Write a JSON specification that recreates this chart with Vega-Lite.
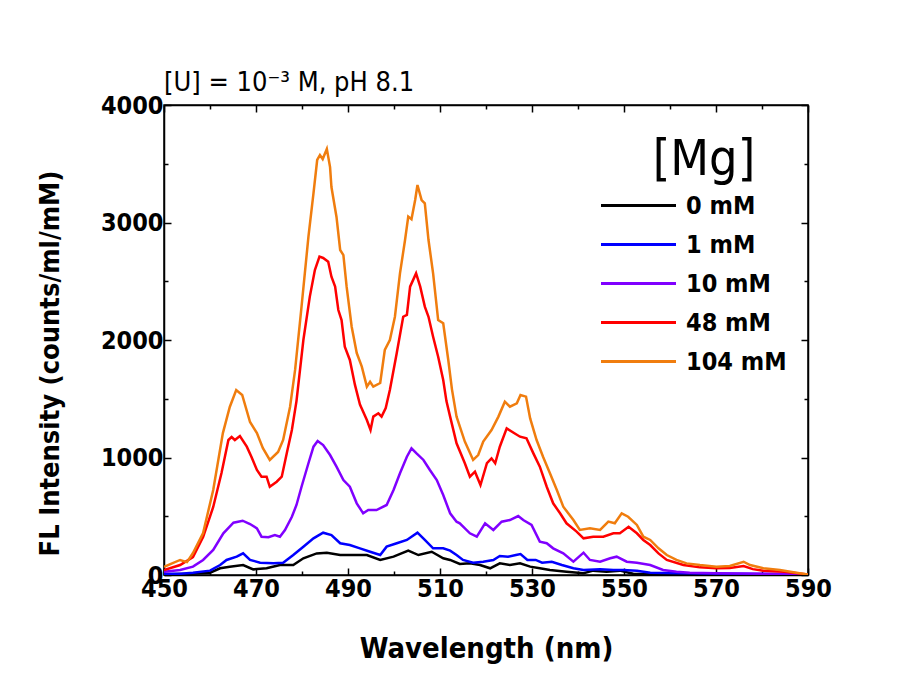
{
  "$schema": "https://vega.github.io/schema/vega-lite/v6.json",
  "width": 644,
  "height": 470,
  "autosize": {"type": "none"},
  "padding": {"left": 164, "top": 105, "right": 102, "bottom": 108},
  "background": "white",
  "title": {"text": "[U] = 10⁻³ M, pH 8.1", "anchor": "start", "frame": "group", "fontSize": 27, "fontWeight": "normal", "font": "Liberation Sans Narrow, DejaVu Sans Condensed, Open Sans, sans-serif", "color": "black", "offset": -4},
  "datasets": {
    "spectra": [
      {"wavelength": 450, "intensity": 5, "mg": "0 mM"}, {"wavelength": 455, "intensity": 10, "mg": "0 mM"}, {"wavelength": 460, "intensity": 20, "mg": "0 mM"}, {"wavelength": 462.2, "intensity": 57, "mg": "0 mM"}, {"wavelength": 464.3, "intensity": 71, "mg": "0 mM"}, {"wavelength": 467.2, "intensity": 85, "mg": "0 mM"}, {"wavelength": 469.4, "intensity": 48, "mg": "0 mM"}, {"wavelength": 472.3, "intensity": 57, "mg": "0 mM"}, {"wavelength": 475.2, "intensity": 85, "mg": "0 mM"}, {"wavelength": 478.1, "intensity": 85, "mg": "0 mM"}, {"wavelength": 480.3, "intensity": 142, "mg": "0 mM"}, {"wavelength": 483.2, "intensity": 184, "mg": "0 mM"}, {"wavelength": 485.4, "intensity": 190, "mg": "0 mM"}, {"wavelength": 488.3, "intensity": 170, "mg": "0 mM"}, {"wavelength": 491.2, "intensity": 170, "mg": "0 mM"}, {"wavelength": 494.1, "intensity": 170, "mg": "0 mM"}, {"wavelength": 497, "intensity": 128, "mg": "0 mM"}, {"wavelength": 499.9, "intensity": 156, "mg": "0 mM"}, {"wavelength": 503.1, "intensity": 207, "mg": "0 mM"}, {"wavelength": 505.3, "intensity": 170, "mg": "0 mM"}, {"wavelength": 508.2, "intensity": 198, "mg": "0 mM"}, {"wavelength": 510.7, "intensity": 142, "mg": "0 mM"}, {"wavelength": 512.2, "intensity": 128, "mg": "0 mM"}, {"wavelength": 514.3, "intensity": 94, "mg": "0 mM"}, {"wavelength": 516.5, "intensity": 99, "mg": "0 mM"}, {"wavelength": 518.7, "intensity": 85, "mg": "0 mM"}, {"wavelength": 520.9, "intensity": 57, "mg": "0 mM"}, {"wavelength": 523, "intensity": 99, "mg": "0 mM"}, {"wavelength": 525.2, "intensity": 85, "mg": "0 mM"}, {"wavelength": 527.4, "intensity": 99, "mg": "0 mM"}, {"wavelength": 529.6, "intensity": 71, "mg": "0 mM"}, {"wavelength": 531.7, "intensity": 57, "mg": "0 mM"}, {"wavelength": 533.9, "intensity": 43, "mg": "0 mM"}, {"wavelength": 537.5, "intensity": 28, "mg": "0 mM"}, {"wavelength": 541.2, "intensity": 15, "mg": "0 mM"}, {"wavelength": 543.3, "intensity": 37, "mg": "0 mM"}, {"wavelength": 546.2, "intensity": 28, "mg": "0 mM"}, {"wavelength": 549.1, "intensity": 37, "mg": "0 mM"}, {"wavelength": 552, "intensity": 10, "mg": "0 mM"}, {"wavelength": 560, "intensity": 5, "mg": "0 mM"}, {"wavelength": 570, "intensity": 5, "mg": "0 mM"}, {"wavelength": 590, "intensity": 3, "mg": "0 mM"},
      {"wavelength": 450, "intensity": 10, "mg": "1 mM"}, {"wavelength": 453.5, "intensity": 10, "mg": "1 mM"}, {"wavelength": 456.3, "intensity": 20, "mg": "1 mM"}, {"wavelength": 460, "intensity": 37, "mg": "1 mM"}, {"wavelength": 462.2, "intensity": 85, "mg": "1 mM"}, {"wavelength": 463.6, "intensity": 128, "mg": "1 mM"}, {"wavelength": 465.8, "intensity": 156, "mg": "1 mM"}, {"wavelength": 467.2, "intensity": 184, "mg": "1 mM"}, {"wavelength": 468.7, "intensity": 128, "mg": "1 mM"}, {"wavelength": 470.9, "intensity": 105, "mg": "1 mM"}, {"wavelength": 473.8, "intensity": 99, "mg": "1 mM"}, {"wavelength": 475.9, "intensity": 105, "mg": "1 mM"}, {"wavelength": 478.1, "intensity": 170, "mg": "1 mM"}, {"wavelength": 480.3, "intensity": 241, "mg": "1 mM"}, {"wavelength": 482.5, "intensity": 312, "mg": "1 mM"}, {"wavelength": 484.6, "intensity": 360, "mg": "1 mM"}, {"wavelength": 486.4, "intensity": 340, "mg": "1 mM"}, {"wavelength": 488.3, "intensity": 270, "mg": "1 mM"}, {"wavelength": 490.4, "intensity": 255, "mg": "1 mM"}, {"wavelength": 492.6, "intensity": 227, "mg": "1 mM"}, {"wavelength": 494.8, "intensity": 198, "mg": "1 mM"}, {"wavelength": 497, "intensity": 170, "mg": "1 mM"}, {"wavelength": 498.4, "intensity": 241, "mg": "1 mM"}, {"wavelength": 500.6, "intensity": 270, "mg": "1 mM"}, {"wavelength": 502.8, "intensity": 298, "mg": "1 mM"}, {"wavelength": 505.1, "intensity": 360, "mg": "1 mM"}, {"wavelength": 506.7, "intensity": 298, "mg": "1 mM"}, {"wavelength": 508.5, "intensity": 227, "mg": "1 mM"}, {"wavelength": 510.7, "intensity": 227, "mg": "1 mM"}, {"wavelength": 512.2, "intensity": 207, "mg": "1 mM"}, {"wavelength": 513.6, "intensity": 170, "mg": "1 mM"}, {"wavelength": 515, "intensity": 128, "mg": "1 mM"}, {"wavelength": 517.2, "intensity": 105, "mg": "1 mM"}, {"wavelength": 519.4, "intensity": 113, "mg": "1 mM"}, {"wavelength": 521.6, "intensity": 128, "mg": "1 mM"}, {"wavelength": 523, "intensity": 162, "mg": "1 mM"}, {"wavelength": 524.8, "intensity": 156, "mg": "1 mM"}, {"wavelength": 526.5, "intensity": 170, "mg": "1 mM"}, {"wavelength": 527.5, "intensity": 178, "mg": "1 mM"}, {"wavelength": 529, "intensity": 128, "mg": "1 mM"}, {"wavelength": 530.8, "intensity": 128, "mg": "1 mM"}, {"wavelength": 532.2, "intensity": 105, "mg": "1 mM"}, {"wavelength": 534.3, "intensity": 113, "mg": "1 mM"}, {"wavelength": 536.5, "intensity": 85, "mg": "1 mM"}, {"wavelength": 539, "intensity": 57, "mg": "1 mM"}, {"wavelength": 541.2, "intensity": 43, "mg": "1 mM"}, {"wavelength": 544.8, "intensity": 48, "mg": "1 mM"}, {"wavelength": 547.7, "intensity": 43, "mg": "1 mM"}, {"wavelength": 549.8, "intensity": 43, "mg": "1 mM"}, {"wavelength": 552.8, "intensity": 37, "mg": "1 mM"}, {"wavelength": 555.7, "intensity": 20, "mg": "1 mM"}, {"wavelength": 562.9, "intensity": 15, "mg": "1 mM"}, {"wavelength": 573.8, "intensity": 10, "mg": "1 mM"}, {"wavelength": 590, "intensity": 5, "mg": "1 mM"},
      {"wavelength": 450, "intensity": 28, "mg": "10 mM"}, {"wavelength": 453.5, "intensity": 43, "mg": "10 mM"}, {"wavelength": 456.3, "intensity": 71, "mg": "10 mM"}, {"wavelength": 458.5, "intensity": 128, "mg": "10 mM"}, {"wavelength": 460.7, "intensity": 213, "mg": "10 mM"}, {"wavelength": 462.9, "intensity": 355, "mg": "10 mM"}, {"wavelength": 465.1, "intensity": 445, "mg": "10 mM"}, {"wavelength": 467.1, "intensity": 462, "mg": "10 mM"}, {"wavelength": 468.7, "intensity": 434, "mg": "10 mM"}, {"wavelength": 470.2, "intensity": 397, "mg": "10 mM"}, {"wavelength": 471.2, "intensity": 326, "mg": "10 mM"}, {"wavelength": 472.7, "intensity": 321, "mg": "10 mM"}, {"wavelength": 474.1, "intensity": 340, "mg": "10 mM"}, {"wavelength": 475.2, "intensity": 326, "mg": "10 mM"}, {"wavelength": 476.3, "intensity": 383, "mg": "10 mM"}, {"wavelength": 477.8, "intensity": 496, "mg": "10 mM"}, {"wavelength": 478.8, "intensity": 596, "mg": "10 mM"}, {"wavelength": 479.9, "intensity": 751, "mg": "10 mM"}, {"wavelength": 481.4, "intensity": 951, "mg": "10 mM"}, {"wavelength": 482.5, "intensity": 1092, "mg": "10 mM"}, {"wavelength": 483.4, "intensity": 1140, "mg": "10 mM"}, {"wavelength": 484.6, "intensity": 1106, "mg": "10 mM"}, {"wavelength": 486.1, "intensity": 1021, "mg": "10 mM"}, {"wavelength": 487.5, "intensity": 922, "mg": "10 mM"}, {"wavelength": 489, "intensity": 808, "mg": "10 mM"}, {"wavelength": 490.4, "intensity": 751, "mg": "10 mM"}, {"wavelength": 491.9, "intensity": 610, "mg": "10 mM"}, {"wavelength": 493.3, "intensity": 525, "mg": "10 mM"}, {"wavelength": 494.4, "intensity": 553, "mg": "10 mM"}, {"wavelength": 496.2, "intensity": 553, "mg": "10 mM"}, {"wavelength": 498.4, "intensity": 596, "mg": "10 mM"}, {"wavelength": 499.9, "intensity": 723, "mg": "10 mM"}, {"wavelength": 501.3, "intensity": 866, "mg": "10 mM"}, {"wavelength": 502.8, "intensity": 1007, "mg": "10 mM"}, {"wavelength": 503.8, "intensity": 1078, "mg": "10 mM"}, {"wavelength": 504.9, "intensity": 1035, "mg": "10 mM"}, {"wavelength": 506.4, "intensity": 979, "mg": "10 mM"}, {"wavelength": 507.8, "intensity": 894, "mg": "10 mM"}, {"wavelength": 509.3, "intensity": 808, "mg": "10 mM"}, {"wavelength": 510.7, "intensity": 681, "mg": "10 mM"}, {"wavelength": 512.2, "intensity": 525, "mg": "10 mM"}, {"wavelength": 513.6, "intensity": 454, "mg": "10 mM"}, {"wavelength": 514.3, "intensity": 440, "mg": "10 mM"}, {"wavelength": 516.5, "intensity": 355, "mg": "10 mM"}, {"wavelength": 518, "intensity": 326, "mg": "10 mM"}, {"wavelength": 519.8, "intensity": 440, "mg": "10 mM"}, {"wavelength": 521.6, "intensity": 383, "mg": "10 mM"}, {"wavelength": 523.4, "intensity": 454, "mg": "10 mM"}, {"wavelength": 525.2, "intensity": 468, "mg": "10 mM"}, {"wavelength": 527, "intensity": 502, "mg": "10 mM"}, {"wavelength": 528.1, "intensity": 468, "mg": "10 mM"}, {"wavelength": 529.9, "intensity": 426, "mg": "10 mM"}, {"wavelength": 531.7, "intensity": 284, "mg": "10 mM"}, {"wavelength": 533.2, "intensity": 270, "mg": "10 mM"}, {"wavelength": 534.6, "intensity": 227, "mg": "10 mM"}, {"wavelength": 536.8, "intensity": 184, "mg": "10 mM"}, {"wavelength": 539, "intensity": 113, "mg": "10 mM"}, {"wavelength": 541.2, "intensity": 190, "mg": "10 mM"}, {"wavelength": 542.6, "intensity": 128, "mg": "10 mM"}, {"wavelength": 544.8, "intensity": 113, "mg": "10 mM"}, {"wavelength": 547, "intensity": 142, "mg": "10 mM"}, {"wavelength": 548.4, "intensity": 156, "mg": "10 mM"}, {"wavelength": 550.6, "intensity": 113, "mg": "10 mM"}, {"wavelength": 552.8, "intensity": 105, "mg": "10 mM"}, {"wavelength": 555.7, "intensity": 85, "mg": "10 mM"}, {"wavelength": 558.5, "intensity": 43, "mg": "10 mM"}, {"wavelength": 561.4, "intensity": 28, "mg": "10 mM"}, {"wavelength": 564.3, "intensity": 20, "mg": "10 mM"}, {"wavelength": 570, "intensity": 15, "mg": "10 mM"}, {"wavelength": 585, "intensity": 10, "mg": "10 mM"}, {"wavelength": 590, "intensity": 5, "mg": "10 mM"},
      {"wavelength": 450, "intensity": 43, "mg": "48 mM"}, {"wavelength": 453.5, "intensity": 85, "mg": "48 mM"}, {"wavelength": 456.3, "intensity": 153, "mg": "48 mM"}, {"wavelength": 458.5, "intensity": 323, "mg": "48 mM"}, {"wavelength": 460.7, "intensity": 579, "mg": "48 mM"}, {"wavelength": 462.5, "intensity": 868, "mg": "48 mM"}, {"wavelength": 464, "intensity": 1149, "mg": "48 mM"}, {"wavelength": 464.7, "intensity": 1174, "mg": "48 mM"}, {"wavelength": 465.4, "intensity": 1149, "mg": "48 mM"}, {"wavelength": 466.5, "intensity": 1183, "mg": "48 mM"}, {"wavelength": 468, "intensity": 1092, "mg": "48 mM"}, {"wavelength": 469, "intensity": 1007, "mg": "48 mM"}, {"wavelength": 470.2, "intensity": 894, "mg": "48 mM"}, {"wavelength": 471.2, "intensity": 837, "mg": "48 mM"}, {"wavelength": 472.3, "intensity": 837, "mg": "48 mM"}, {"wavelength": 473, "intensity": 751, "mg": "48 mM"}, {"wavelength": 474.5, "intensity": 794, "mg": "48 mM"}, {"wavelength": 475.6, "intensity": 837, "mg": "48 mM"}, {"wavelength": 476.7, "intensity": 1038, "mg": "48 mM"}, {"wavelength": 477.8, "intensity": 1234, "mg": "48 mM"}, {"wavelength": 478.8, "intensity": 1480, "mg": "48 mM"}, {"wavelength": 480.3, "intensity": 2000, "mg": "48 mM"}, {"wavelength": 481.7, "intensity": 2369, "mg": "48 mM"}, {"wavelength": 482.8, "intensity": 2596, "mg": "48 mM"}, {"wavelength": 483.8, "intensity": 2709, "mg": "48 mM"}, {"wavelength": 484.6, "intensity": 2698, "mg": "48 mM"}, {"wavelength": 485.7, "intensity": 2666, "mg": "48 mM"}, {"wavelength": 486.4, "intensity": 2539, "mg": "48 mM"}, {"wavelength": 487.2, "intensity": 2454, "mg": "48 mM"}, {"wavelength": 487.9, "intensity": 2255, "mg": "48 mM"}, {"wavelength": 488.6, "intensity": 2170, "mg": "48 mM"}, {"wavelength": 489.3, "intensity": 1943, "mg": "48 mM"}, {"wavelength": 490.4, "intensity": 1830, "mg": "48 mM"}, {"wavelength": 491.5, "intensity": 1620, "mg": "48 mM"}, {"wavelength": 492.6, "intensity": 1450, "mg": "48 mM"}, {"wavelength": 494.1, "intensity": 1319, "mg": "48 mM"}, {"wavelength": 494.9, "intensity": 1234, "mg": "48 mM"}, {"wavelength": 495.5, "intensity": 1348, "mg": "48 mM"}, {"wavelength": 496.6, "intensity": 1376, "mg": "48 mM"}, {"wavelength": 497.3, "intensity": 1348, "mg": "48 mM"}, {"wavelength": 498.2, "intensity": 1420, "mg": "48 mM"}, {"wavelength": 499.1, "intensity": 1574, "mg": "48 mM"}, {"wavelength": 500.6, "intensity": 1889, "mg": "48 mM"}, {"wavelength": 502, "intensity": 2198, "mg": "48 mM"}, {"wavelength": 502.8, "intensity": 2213, "mg": "48 mM"}, {"wavelength": 503.5, "intensity": 2454, "mg": "48 mM"}, {"wavelength": 504.8, "intensity": 2567, "mg": "48 mM"}, {"wavelength": 505.7, "intensity": 2454, "mg": "48 mM"}, {"wavelength": 506.7, "intensity": 2284, "mg": "48 mM"}, {"wavelength": 507.5, "intensity": 2198, "mg": "48 mM"}, {"wavelength": 508.5, "intensity": 2028, "mg": "48 mM"}, {"wavelength": 509.6, "intensity": 1858, "mg": "48 mM"}, {"wavelength": 510.7, "intensity": 1660, "mg": "48 mM"}, {"wavelength": 511.4, "intensity": 1480, "mg": "48 mM"}, {"wavelength": 512.2, "intensity": 1348, "mg": "48 mM"}, {"wavelength": 513.6, "intensity": 1121, "mg": "48 mM"}, {"wavelength": 515.4, "intensity": 951, "mg": "48 mM"}, {"wavelength": 516.5, "intensity": 837, "mg": "48 mM"}, {"wavelength": 517.6, "intensity": 879, "mg": "48 mM"}, {"wavelength": 518.8, "intensity": 766, "mg": "48 mM"}, {"wavelength": 520.2, "intensity": 951, "mg": "48 mM"}, {"wavelength": 521.2, "intensity": 993, "mg": "48 mM"}, {"wavelength": 522, "intensity": 951, "mg": "48 mM"}, {"wavelength": 523, "intensity": 1092, "mg": "48 mM"}, {"wavelength": 524.5, "intensity": 1248, "mg": "48 mM"}, {"wavelength": 526, "intensity": 1211, "mg": "48 mM"}, {"wavelength": 527.4, "intensity": 1177, "mg": "48 mM"}, {"wavelength": 528.8, "intensity": 1163, "mg": "48 mM"}, {"wavelength": 530.3, "intensity": 1035, "mg": "48 mM"}, {"wavelength": 531.7, "intensity": 922, "mg": "48 mM"}, {"wavelength": 533.2, "intensity": 751, "mg": "48 mM"}, {"wavelength": 534.6, "intensity": 610, "mg": "48 mM"}, {"wavelength": 536.1, "intensity": 525, "mg": "48 mM"}, {"wavelength": 537.5, "intensity": 440, "mg": "48 mM"}, {"wavelength": 539.7, "intensity": 369, "mg": "48 mM"}, {"wavelength": 541.2, "intensity": 312, "mg": "48 mM"}, {"wavelength": 543.3, "intensity": 326, "mg": "48 mM"}, {"wavelength": 545.5, "intensity": 326, "mg": "48 mM"}, {"wavelength": 547.7, "intensity": 355, "mg": "48 mM"}, {"wavelength": 549.1, "intensity": 355, "mg": "48 mM"}, {"wavelength": 551, "intensity": 411, "mg": "48 mM"}, {"wavelength": 552.8, "intensity": 355, "mg": "48 mM"}, {"wavelength": 554.2, "intensity": 298, "mg": "48 mM"}, {"wavelength": 555.7, "intensity": 255, "mg": "48 mM"}, {"wavelength": 557.5, "intensity": 184, "mg": "48 mM"}, {"wavelength": 559.3, "intensity": 128, "mg": "48 mM"}, {"wavelength": 562.9, "intensity": 85, "mg": "48 mM"}, {"wavelength": 566.5, "intensity": 65, "mg": "48 mM"}, {"wavelength": 570.1, "intensity": 57, "mg": "48 mM"}, {"wavelength": 573, "intensity": 60, "mg": "48 mM"}, {"wavelength": 576, "intensity": 77, "mg": "48 mM"}, {"wavelength": 578, "intensity": 50, "mg": "48 mM"}, {"wavelength": 580.3, "intensity": 37, "mg": "48 mM"}, {"wavelength": 584.8, "intensity": 28, "mg": "48 mM"}, {"wavelength": 590, "intensity": 5, "mg": "48 mM"},
      {"wavelength": 450, "intensity": 70, "mg": "104 mM"}, {"wavelength": 451.5, "intensity": 95, "mg": "104 mM"}, {"wavelength": 453.5, "intensity": 128, "mg": "104 mM"}, {"wavelength": 455, "intensity": 110, "mg": "104 mM"}, {"wavelength": 456.3, "intensity": 187, "mg": "104 mM"}, {"wavelength": 458.5, "intensity": 357, "mg": "104 mM"}, {"wavelength": 460.7, "intensity": 723, "mg": "104 mM"}, {"wavelength": 462.8, "intensity": 1208, "mg": "104 mM"}, {"wavelength": 464.3, "intensity": 1430, "mg": "104 mM"}, {"wavelength": 465.7, "intensity": 1574, "mg": "104 mM"}, {"wavelength": 467, "intensity": 1532, "mg": "104 mM"}, {"wavelength": 468.7, "intensity": 1302, "mg": "104 mM"}, {"wavelength": 470.2, "intensity": 1208, "mg": "104 mM"}, {"wavelength": 471.5, "intensity": 1080, "mg": "104 mM"}, {"wavelength": 473, "intensity": 979, "mg": "104 mM"}, {"wavelength": 474.8, "intensity": 1047, "mg": "104 mM"}, {"wavelength": 475.9, "intensity": 1149, "mg": "104 mM"}, {"wavelength": 477.4, "intensity": 1430, "mg": "104 mM"}, {"wavelength": 478.5, "intensity": 1745, "mg": "104 mM"}, {"wavelength": 479.9, "intensity": 2284, "mg": "104 mM"}, {"wavelength": 481.4, "intensity": 2879, "mg": "104 mM"}, {"wavelength": 482.5, "intensity": 3250, "mg": "104 mM"}, {"wavelength": 483.3, "intensity": 3532, "mg": "104 mM"}, {"wavelength": 483.9, "intensity": 3574, "mg": "104 mM"}, {"wavelength": 484.5, "intensity": 3540, "mg": "104 mM"}, {"wavelength": 485.4, "intensity": 3626, "mg": "104 mM"}, {"wavelength": 486.1, "intensity": 3472, "mg": "104 mM"}, {"wavelength": 486.4, "intensity": 3302, "mg": "104 mM"}, {"wavelength": 487.5, "intensity": 3047, "mg": "104 mM"}, {"wavelength": 488.3, "intensity": 2766, "mg": "104 mM"}, {"wavelength": 489, "intensity": 2723, "mg": "104 mM"}, {"wavelength": 489.7, "intensity": 2454, "mg": "104 mM"}, {"wavelength": 490.8, "intensity": 2113, "mg": "104 mM"}, {"wavelength": 491.9, "intensity": 1889, "mg": "104 mM"}, {"wavelength": 493, "intensity": 1773, "mg": "104 mM"}, {"wavelength": 494.1, "intensity": 1603, "mg": "104 mM"}, {"wavelength": 494.8, "intensity": 1645, "mg": "104 mM"}, {"wavelength": 495.5, "intensity": 1603, "mg": "104 mM"}, {"wavelength": 497, "intensity": 1634, "mg": "104 mM"}, {"wavelength": 498, "intensity": 1915, "mg": "104 mM"}, {"wavelength": 499.1, "intensity": 2000, "mg": "104 mM"}, {"wavelength": 500.2, "intensity": 2198, "mg": "104 mM"}, {"wavelength": 501.3, "intensity": 2567, "mg": "104 mM"}, {"wavelength": 502.4, "intensity": 2851, "mg": "104 mM"}, {"wavelength": 503.1, "intensity": 3050, "mg": "104 mM"}, {"wavelength": 503.8, "intensity": 3028, "mg": "104 mM"}, {"wavelength": 504.6, "intensity": 3191, "mg": "104 mM"}, {"wavelength": 505.1, "intensity": 3319, "mg": "104 mM"}, {"wavelength": 506, "intensity": 3191, "mg": "104 mM"}, {"wavelength": 506.7, "intensity": 3163, "mg": "104 mM"}, {"wavelength": 507.5, "intensity": 2851, "mg": "104 mM"}, {"wavelength": 508.5, "intensity": 2567, "mg": "104 mM"}, {"wavelength": 509.6, "intensity": 2170, "mg": "104 mM"}, {"wavelength": 510.7, "intensity": 2142, "mg": "104 mM"}, {"wavelength": 511.8, "intensity": 1830, "mg": "104 mM"}, {"wavelength": 512.6, "intensity": 1580, "mg": "104 mM"}, {"wavelength": 513.6, "intensity": 1348, "mg": "104 mM"}, {"wavelength": 515.4, "intensity": 1135, "mg": "104 mM"}, {"wavelength": 517.2, "intensity": 979, "mg": "104 mM"}, {"wavelength": 518.3, "intensity": 1021, "mg": "104 mM"}, {"wavelength": 519.4, "intensity": 1135, "mg": "104 mM"}, {"wavelength": 521.2, "intensity": 1234, "mg": "104 mM"}, {"wavelength": 522.7, "intensity": 1348, "mg": "104 mM"}, {"wavelength": 524.1, "intensity": 1475, "mg": "104 mM"}, {"wavelength": 525.2, "intensity": 1433, "mg": "104 mM"}, {"wavelength": 526.7, "intensity": 1461, "mg": "104 mM"}, {"wavelength": 527.5, "intensity": 1532, "mg": "104 mM"}, {"wavelength": 528.7, "intensity": 1518, "mg": "104 mM"}, {"wavelength": 529.6, "intensity": 1333, "mg": "104 mM"}, {"wavelength": 531, "intensity": 1149, "mg": "104 mM"}, {"wavelength": 532.4, "intensity": 1007, "mg": "104 mM"}, {"wavelength": 533.9, "intensity": 866, "mg": "104 mM"}, {"wavelength": 535.4, "intensity": 723, "mg": "104 mM"}, {"wavelength": 536.8, "intensity": 581, "mg": "104 mM"}, {"wavelength": 539, "intensity": 468, "mg": "104 mM"}, {"wavelength": 540.4, "intensity": 383, "mg": "104 mM"}, {"wavelength": 542.6, "intensity": 397, "mg": "104 mM"}, {"wavelength": 544.8, "intensity": 383, "mg": "104 mM"}, {"wavelength": 546.6, "intensity": 454, "mg": "104 mM"}, {"wavelength": 548, "intensity": 440, "mg": "104 mM"}, {"wavelength": 549.5, "intensity": 525, "mg": "104 mM"}, {"wavelength": 550.9, "intensity": 496, "mg": "104 mM"}, {"wavelength": 552.8, "intensity": 426, "mg": "104 mM"}, {"wavelength": 554.2, "intensity": 326, "mg": "104 mM"}, {"wavelength": 555.7, "intensity": 298, "mg": "104 mM"}, {"wavelength": 557.5, "intensity": 227, "mg": "104 mM"}, {"wavelength": 559.3, "intensity": 170, "mg": "104 mM"}, {"wavelength": 561.4, "intensity": 128, "mg": "104 mM"}, {"wavelength": 563.6, "intensity": 99, "mg": "104 mM"}, {"wavelength": 566.5, "intensity": 85, "mg": "104 mM"}, {"wavelength": 570.1, "intensity": 71, "mg": "104 mM"}, {"wavelength": 573, "intensity": 77, "mg": "104 mM"}, {"wavelength": 576, "intensity": 113, "mg": "104 mM"}, {"wavelength": 577.4, "intensity": 85, "mg": "104 mM"}, {"wavelength": 580.3, "intensity": 57, "mg": "104 mM"}, {"wavelength": 583.9, "intensity": 43, "mg": "104 mM"}, {"wavelength": 587.5, "intensity": 20, "mg": "104 mM"}, {"wavelength": 590, "intensity": 5, "mg": "104 mM"}
    ]
  },
  "data": {"name": "spectra"},
  "layer": [
    {
      "mark": {"type": "line", "strokeWidth": 2.5, "clip": true},
      "encoding": {
        "x": {"field": "wavelength", "type": "quantitative",
          "scale": {"domain": [450, 590], "nice": false, "zero": false},
          "axis": {"orient": "bottom", "title": "Wavelength (nm)", "format": "d", "values": [450, 460, 470, 480, 490, 500, 510, 520, 530, 540, 550, 560, 570, 580, 590],
            "labelExpr": "datum.value % 20 == 10 ? datum.label : ''",
            "tickSize": {"condition": {"test": "datum.value % 20 == 10", "value": -7}, "value": -4},
            "labelPadding": 8, "titlePadding": 30, "titleFontSize": 29}},
        "y": {"field": "intensity", "type": "quantitative",
          "scale": {"domain": [0, 4000], "nice": false},
          "axis": {"orient": "left", "title": "FL Intensity (counts/ml/mM)", "format": "d", "values": [0, 500, 1000, 1500, 2000, 2500, 3000, 3500, 4000],
            "labelExpr": "datum.value % 1000 == 0 ? datum.label : ''",
            "tickSize": {"condition": {"test": "datum.value % 1000 == 0", "value": -7}, "value": -4},
            "labelPadding": 8, "titlePadding": 36, "titleFontSize": 27, "titleY": 258}},
        "color": {"field": "mg", "type": "nominal",
          "scale": {"domain": ["0 mM", "1 mM", "10 mM", "48 mM", "104 mM"], "range": ["#000000", "#0000FF", "#8000FF", "#FF0000", "#F07D0E"]},
          "legend": {"title": "[Mg]", "orient": "none", "legendX": 458, "legendY": 30, "symbolType": "M-2.5,0H2.5", "symbolSize": 900, "symbolStrokeWidth": 3, "rowPadding": 9, "labelOffset": 31, "titleAnchor": "middle", "titleFontSize": 50, "titleFontWeight": "normal", "titleFont": "Liberation Sans Narrow, DejaVu Sans Condensed, Open Sans, sans-serif", "titleColor": "black", "labelFontSize": 25, "labelFont": "Liberation Sans Narrow, DejaVu Sans Condensed, Open Sans, sans-serif", "labelFontWeight": "bold", "labelColor": "black", "titlePadding": 4}
        }
      }
    },
    {
      "mark": {"type": "line", "opacity": 0},
      "encoding": {
        "x": {"field": "wavelength", "type": "quantitative",
          "axis": {"orient": "top", "title": null, "labels": false, "values": [450, 460, 470, 480, 490, 500, 510, 520, 530, 540, 550, 560, 570, 580, 590],
            "tickSize": {"condition": {"test": "datum.value % 20 == 10", "value": -7}, "value": -4}}},
        "y": {"field": "intensity", "type": "quantitative",
          "axis": {"orient": "right", "title": null, "labels": false, "values": [0, 500, 1000, 1500, 2000, 2500, 3000, 3500, 4000],
            "tickSize": {"condition": {"test": "datum.value % 1000 == 0", "value": -7}, "value": -4}}},
        "detail": {"field": "mg"}
      }
    }
  ],
  "resolve": {"axis": {"x": "independent", "y": "independent"}},
  "config": {
    "view": {"stroke": "black", "strokeWidth": 1.5},
    "axis": {"grid": false, "domainColor": "black", "domainWidth": 1.5, "tickColor": "black", "tickWidth": 1.5,
      "labelFont": "Liberation Sans Narrow, DejaVu Sans Condensed, Open Sans, sans-serif", "labelFontSize": 25, "labelFontWeight": "bold", "labelColor": "black", "labelOverlap": false, "labelFlush": false,
      "titleFont": "Liberation Sans Narrow, DejaVu Sans Condensed, Open Sans, sans-serif", "titleFontWeight": "bold", "titleColor": "black"}
  }
}
